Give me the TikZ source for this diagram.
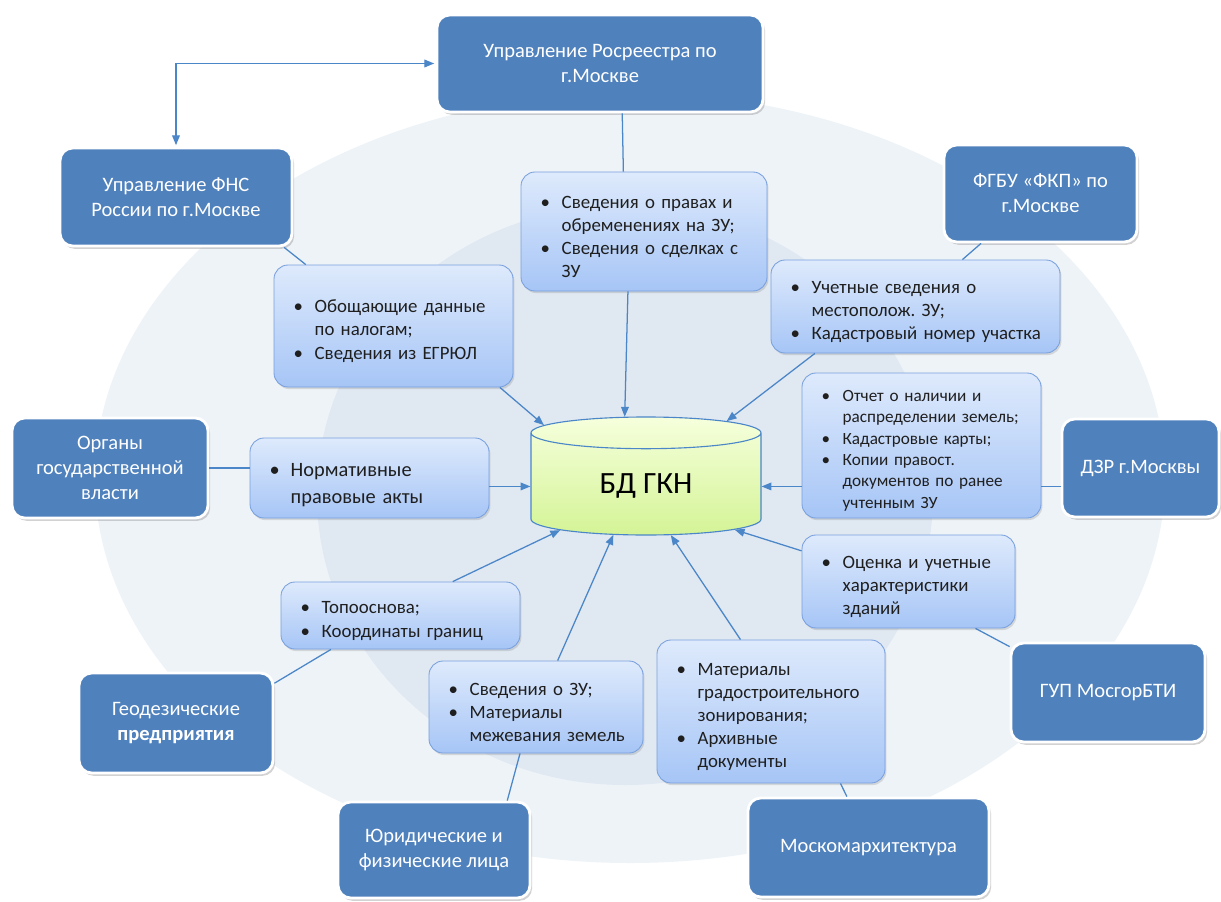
\documentclass[tikz,border=0pt]{standalone}
\usepackage{fontspec}
\setmainfont{Carlito}
\frenchspacing
\usetikzlibrary{shapes.geometric,shadows,arrows.meta}

\definecolor{orgblue}{RGB}{79,129,189}
\definecolor{infotop}{RGB}{222,234,252}
\definecolor{infobottom}{RGB}{166,197,246}
\definecolor{infoline}{RGB}{120,160,222}
\definecolor{linkblue}{RGB}{74,134,200}
\definecolor{ringout}{RGB}{238,243,248}
\definecolor{ringin}{RGB}{224,232,242}
\definecolor{dbtop}{RGB}{246,255,220}
\definecolor{dbbottom}{RGB}{212,244,150}

% bullet line with hanging indent, and a break inside it
\newcommand{\bul}{\par\hangindent=19pt\hangafter=1\noindent\makebox[19pt][l]{\hspace{4pt}\textbullet}}
\newcommand{\nextline}{\hfil\break}

\tikzset{
  orgbox/.style={draw=white, line width=2pt, fill=orgblue, rounded corners=9pt,
    text=white, align=center, font=\fontsize{14.6}{17.8}\selectfont,
    drop shadow={opacity=0.35, shadow xshift=1.5pt, shadow yshift=-2pt}},
  infobox/.style={draw=infoline, line width=0.6pt, top color=infotop, bottom color=infobottom,
    rounded corners=10pt, text=black!88, align=left, inner xsep=0.35cm,
    font=\fontsize{13.4}{16.4}\selectfont,
    drop shadow={opacity=0.25, shadow xshift=1pt, shadow yshift=-1.5pt}},
  link/.style={draw=linkblue, line width=0.9pt},
}

\begin{document}
\begin{tikzpicture}[x=0.25cm, y=0.25cm, >={Triangle[length=7pt,width=5.5pt]}]
\useasboundingbox (0,0) rectangle (122.1,-90.1);
\fill[white] (0,0) rectangle (122.1,-90.1);
%
%% background
\fill[ringout] (63.0,-47.8) ellipse [x radius=53.5, y radius=38.5];
\fill[ringin] (62.5,-49.5) ellipse [x radius=30.8, y radius=29];

%% data base
\node[shape=cylinder, shape border rotate=90, aspect=0.31, draw=linkblue, line width=0.8pt,
  top color=dbtop, bottom color=dbbottom, minimum width=5.75cm, minimum height=2.95cm,
  font=\fontsize{22}{26}\selectfont, anchor=shape center] (db) at (64.6,-47.6) {\raisebox{-3pt}{БД ГКН}};

%% offices
\node[orgbox, minimum width=8.15cm, minimum height=2.425cm] (ros) at (60.0,-6.35) {Управление Росреестра по\\г.Москве};
\node[orgbox, minimum width=5.8cm, minimum height=2.45cm] (fns) at (17.6,-19.7) {Управление ФНС\\России по г.Москве};
\node[orgbox, minimum width=4.825cm, minimum height=2.425cm] (fkp) at (104.05,-19.35) {ФГБУ «ФКП» по\\г.Москве};
\node[orgbox, minimum width=4.9cm, minimum height=2.5cm] (org) at (11.0,-46.8) {Органы\\государственной\\власти};
\node[orgbox, minimum width=3.925cm, minimum height=2.45cm] (dzr) at (114.05,-46.8) {ДЗР г.Москвы};
\node[orgbox, minimum width=4.85cm, minimum height=2.475cm] (gup) at (110.8,-69.25) {ГУП МосгорБТИ};
\node[orgbox, minimum width=6.025cm, minimum height=2.475cm] (mka) at (86.85,-84.75) {Москомархитектура};
\node[orgbox, minimum width=4.8cm, minimum height=2.4cm] (jur) at (43.4,-85.0) {Юридические и\\физические лица};
\node[orgbox, minimum width=4.85cm, minimum height=2.5cm] (geo) at (17.6,-72.3) {Геодезические\\\textbf{предприятия}};

%% data
\node[infobox, text width=5.45cm, minimum height=2.975cm] (rights) at (64.4,-23.15)
  {\bul Сведения о правах и\nextline обременениях на ЗУ;\bul Сведения о сделках с\nextline ЗУ\par};
\node[infobox, text width=5.275cm, minimum height=3.05cm] (tax) at (39.35,-32.6)
  {\bul Обощающие данные\nextline по налогам;\bul Сведения из ЕГРЮЛ\par};
\node[infobox, text width=6.525cm, minimum height=2.325cm] (loc) at (91.55,-30.65)
  {\bul Учетные сведения о\nextline местополож. ЗУ;\bul Кадастровый номер участка\par};
\node[infobox, text width=5.275cm, minimum height=3.625cm, font=\fontsize{12.2}{15.2}\selectfont] (rep) at (92.15,-44.55)
  {\bul Отчет о наличии и\nextline распределении земель;\bul Кадастровые карты;\bul Копии правост.\nextline документов по ранее\nextline учтенным ЗУ\par};
\node[infobox, text width=4.625cm, minimum height=2.325cm] (bld) at (90.85,-58.15)
  {\bul Оценка и учетные\nextline характеристики\nextline зданий\par};
\node[infobox, text width=5.0cm, minimum height=3.575cm] (zon) at (77.1,-71.15)
  {\bul Материалы\nextline градостроительного\nextline зонирования;\bul Архивные\nextline документы\par};
\node[infobox, text width=4.65cm, minimum height=2.3cm] (zu) at (53.6,-70.7)
  {\bul Сведения о ЗУ;\bul Материалы\nextline межевания земель\par};
\node[infobox, text width=5.275cm, minimum height=1.675cm] (topo) at (40.05,-61.55)
  {\bul Топооснова;\bul Координаты границ\par};
\node[infobox, text width=5.275cm, minimum height=2.0cm, font=\fontsize{14.5}{19}\selectfont] (norm) at (36.95,-47.8)
  {\bul Нормативные\nextline правовые акты\par};

%% offices to data
\draw[link] (ros.-66) -- (rights.109);
\draw[link] (fns.-25) -- (tax.145);
\draw[link] (fkp.-140) -- (loc.45);
\draw[link] (org.east) -- (org.east -| norm.west);
\draw[link] (db.0 -| dzr.west) -- (db.0 -| rep.east);
\draw[link] (gup.155) -- (bld.-35);
\draw[link] (mka.113.5) -- (zon.-46);
\draw[link] (jur.34) -- (zu.-109);
\draw[link] (geo.22) -- (topo.-154);

%% data to data base
\draw[link, ->] (rights.-105) -- (db.107);
\draw[link, ->] (tax.-30) -- (db.149);
\draw[link, ->] (loc.-155) -- (db.39);
\draw[link, ->] (db.180 -| norm.east) -- (db.180);
\draw[link, ->] (db.0 -| rep.west) -- (db.0);
\draw[link, ->] (bld.164.5) -- (db.-26);
\draw[link, ->] (zon.113) -- (db.-63);
\draw[link, ->] (zu.65.5) -- (db.-124.5);
\draw[link, ->] (topo.33) -- (db.-153);

%% between the two offices
\draw[link, <->, shorten <=1pt, shorten >=1pt] (fns.north) |- (ros.west);
\end{tikzpicture}
\end{document}
